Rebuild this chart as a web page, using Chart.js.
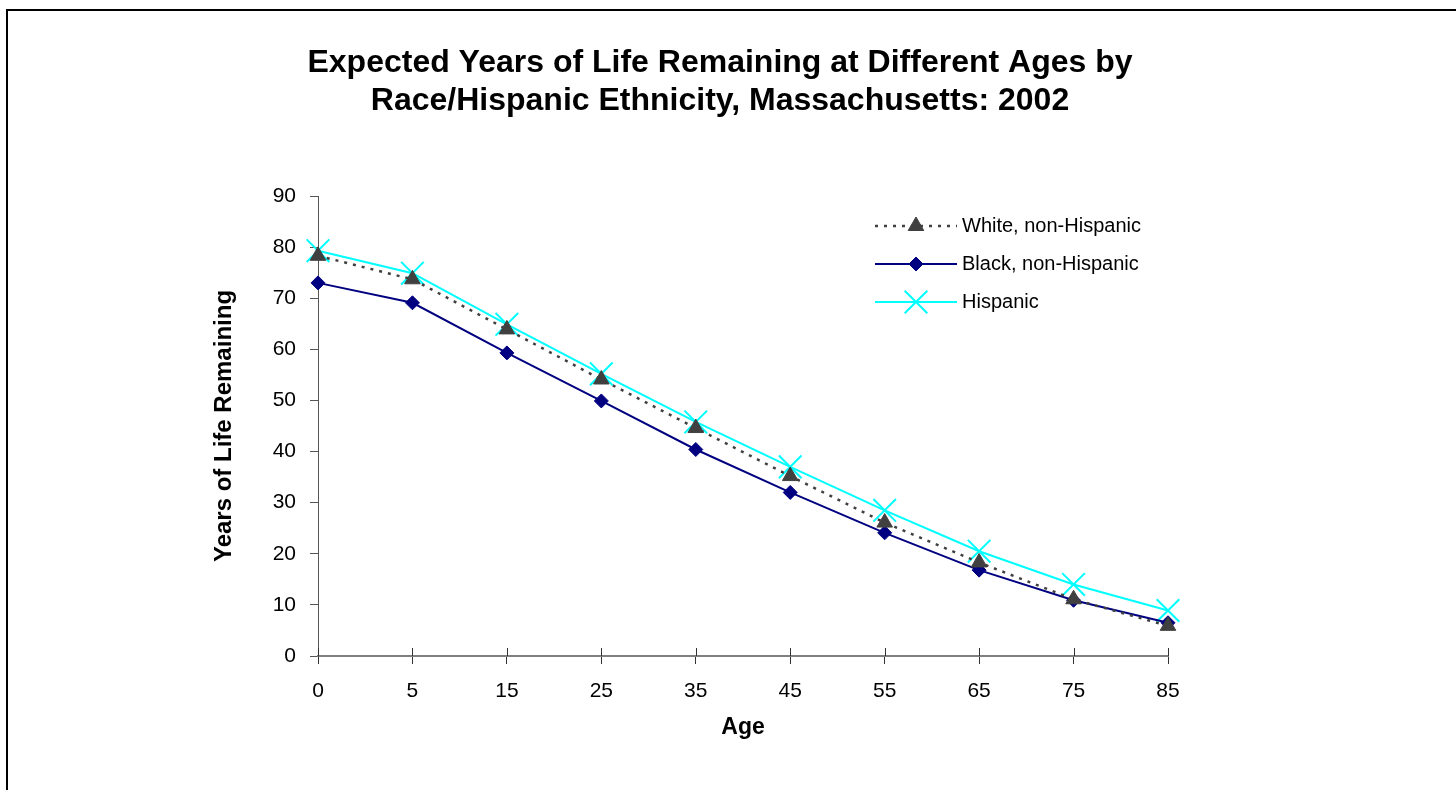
<!DOCTYPE html>
<html>
<head>
<meta charset="utf-8">
<script src="https://cdn.jsdelivr.net/npm/chart.js@4.4.1/dist/chart.umd.min.js"></script>
<style>
  html, body { margin: 0; padding: 0; background: #fff; overflow: hidden; }
  #frame { position: absolute; left: 6px; top: 9px; width: 1600px; height: 900px;
           border-top: 2px solid #000; border-left: 2px solid #000; box-sizing: border-box; }
  #c { position: absolute; left: 0; top: 0; }
</style>
</head>
<body>
<div id="frame"></div>
<canvas id="c" width="1456" height="790"></canvas>
<script>
// ---- data ----
const ages = ['0', '5', '15', '25', '35', '45', '55', '65', '75', '85'];
const whiteNonHispanic = [78.3, 73.7, 63.9, 54.1, 44.6, 35.2, 26.1, 18.3, 11.1, 5.9];
const blackNonHispanic = [73.0, 69.1, 59.3, 49.9, 40.4, 32.0, 24.1, 16.8, 10.9, 6.5];
const hispanic = [79.3, 74.9, 64.9, 55.2, 45.8, 37.0, 28.5, 20.5, 14.0, 8.9];
const seriesNames = ['White, non-Hispanic', 'Black, non-Hispanic', 'Hispanic'];
const titleLines = ['Expected Years of Life Remaining at Different Ages by', 'Race/Hispanic Ethnicity, Massachusetts: 2002'];
const yTicks = { min: 0, max: 90, step: 10 };

const FONT = '"Liberation Sans", Arial, sans-serif';

const titlePlugin = {
  id: 'customTitle',
  afterDraw(chart) {
    const ctx = chart.ctx;
    ctx.save();
    ctx.fillStyle = '#000';
    ctx.font = 'bold 32px ' + FONT;
    ctx.textAlign = 'center';
    ctx.textBaseline = 'alphabetic';
    ctx.fillText(titleLines[0], 720, 72);
    ctx.fillText(titleLines[1], 720, 110);
    ctx.restore();
  }
};

// x-axis tick marks cross the axis line in the reference
const crossTicksPlugin = {
  id: 'crossTicks',
  afterDraw(chart) {
    const sx = chart.scales.x;
    const ctx = chart.ctx;
    ctx.save();
    ctx.strokeStyle = '#333';
    ctx.lineWidth = 1;
    sx.ticks.forEach((t, i) => {
      const px = Math.round(sx.getPixelForTick(i)) + 0.5;
      ctx.beginPath();
      ctx.moveTo(px, sx.top - 8);
      ctx.lineTo(px, sx.top);
      ctx.stroke();
    });
    ctx.restore();
  }
};

const legendPlugin = {
  id: 'customLegend',
  afterDraw(chart) {
    const ctx = chart.ctx;
    const x0 = 875, x1 = 957, xm = 916, xt = 962;
    const rowY = [226, 264, 302];
    chart.data.datasets.forEach((ds, i) => {
      const y = rowY[i];
      ctx.save();
      ctx.strokeStyle = ds.borderColor;
      ctx.lineWidth = ds.borderWidth;
      ctx.setLineDash(ds.borderDash || []);
      ctx.beginPath();
      ctx.moveTo(x0, y);
      ctx.lineTo(x1, y);
      ctx.stroke();
      ctx.setLineDash([]);
      ctx.fillStyle = ds.pointBackgroundColor;
      ctx.strokeStyle = ds.pointBorderColor;
      ctx.lineWidth = ds.pointBorderWidth;
      Chart.helpers.drawPoint(ctx, { pointStyle: ds.pointStyle, radius: ds.pointRadius, rotation: 0, borderWidth: ds.pointBorderWidth }, xm, y);
      ctx.fillStyle = '#000';
      ctx.font = '20px ' + FONT;
      ctx.textAlign = 'left';
      ctx.textBaseline = 'middle';
      ctx.fillText(ds.label, xt, y);
      ctx.restore();
    });
  }
};

new Chart(document.getElementById('c'), {
  type: 'line',
  data: {
    labels: ages,
    datasets: [
      {
        label: seriesNames[0], data: whiteNonHispanic,
        borderColor: '#404040', borderWidth: 2.5, borderDash: [3, 6],
        pointStyle: 'triangle', pointRadius: 9,
        pointBackgroundColor: '#404040', pointBorderColor: '#404040', pointBorderWidth: 1,
        tension: 0, fill: false
      },
      {
        label: seriesNames[1], data: blackNonHispanic,
        borderColor: '#000080', borderWidth: 2,
        pointStyle: 'rectRot', pointRadius: 7,
        pointBackgroundColor: '#000080', pointBorderColor: '#000080', pointBorderWidth: 1,
        tension: 0, fill: false
      },
      {
        label: seriesNames[2], data: hispanic,
        borderColor: '#00FFFF', borderWidth: 2,
        pointStyle: 'crossRot', pointRadius: 16,
        pointBackgroundColor: '#00FFFF', pointBorderColor: '#00FFFF', pointBorderWidth: 2,
        tension: 0, fill: false
      }
    ]
  },
  options: {
    responsive: false,
    animation: false,
    devicePixelRatio: 1,
    layout: { padding: { left: 210, right: 288, top: 196, bottom: 34 } },
    plugins: { legend: { display: false }, tooltip: { enabled: false }, title: { display: false } },
    scales: {
      x: {
        type: 'category',
        offset: false,
        afterFit(scale) { scale.height = 100; },
        grid: { display: true, drawOnChartArea: false, drawTicks: true, tickLength: 8, color: '#333', lineWidth: 1 },
        border: { display: true, color: '#808080', width: 2 },
        ticks: { color: '#000', font: { family: FONT, size: 21 }, padding: 15, maxRotation: 0, autoSkip: false },
        title: { display: true, text: 'Age', color: '#000', font: { family: FONT, size: 23, weight: 'bold' }, padding: { top: 0, bottom: 15 } }
      },
      y: {
        min: yTicks.min, max: yTicks.max,
        afterFit(scale) { scale.width = 108; },
        grid: { display: true, drawOnChartArea: false, drawTicks: true, tickLength: 8, color: '#555', lineWidth: 1 },
        border: { display: true, color: '#555', width: 1 },
        ticks: { stepSize: yTicks.step, color: '#000', font: { family: FONT, size: 21 }, padding: 14 },
        title: { display: true, text: 'Years of Life Remaining', color: '#000', font: { family: FONT, size: 24, weight: 'bold' }, padding: { top: 0, bottom: 0 } }
      }
    }
  },
  plugins: [titlePlugin, crossTicksPlugin, legendPlugin]
});
</script>
</body>
</html>
